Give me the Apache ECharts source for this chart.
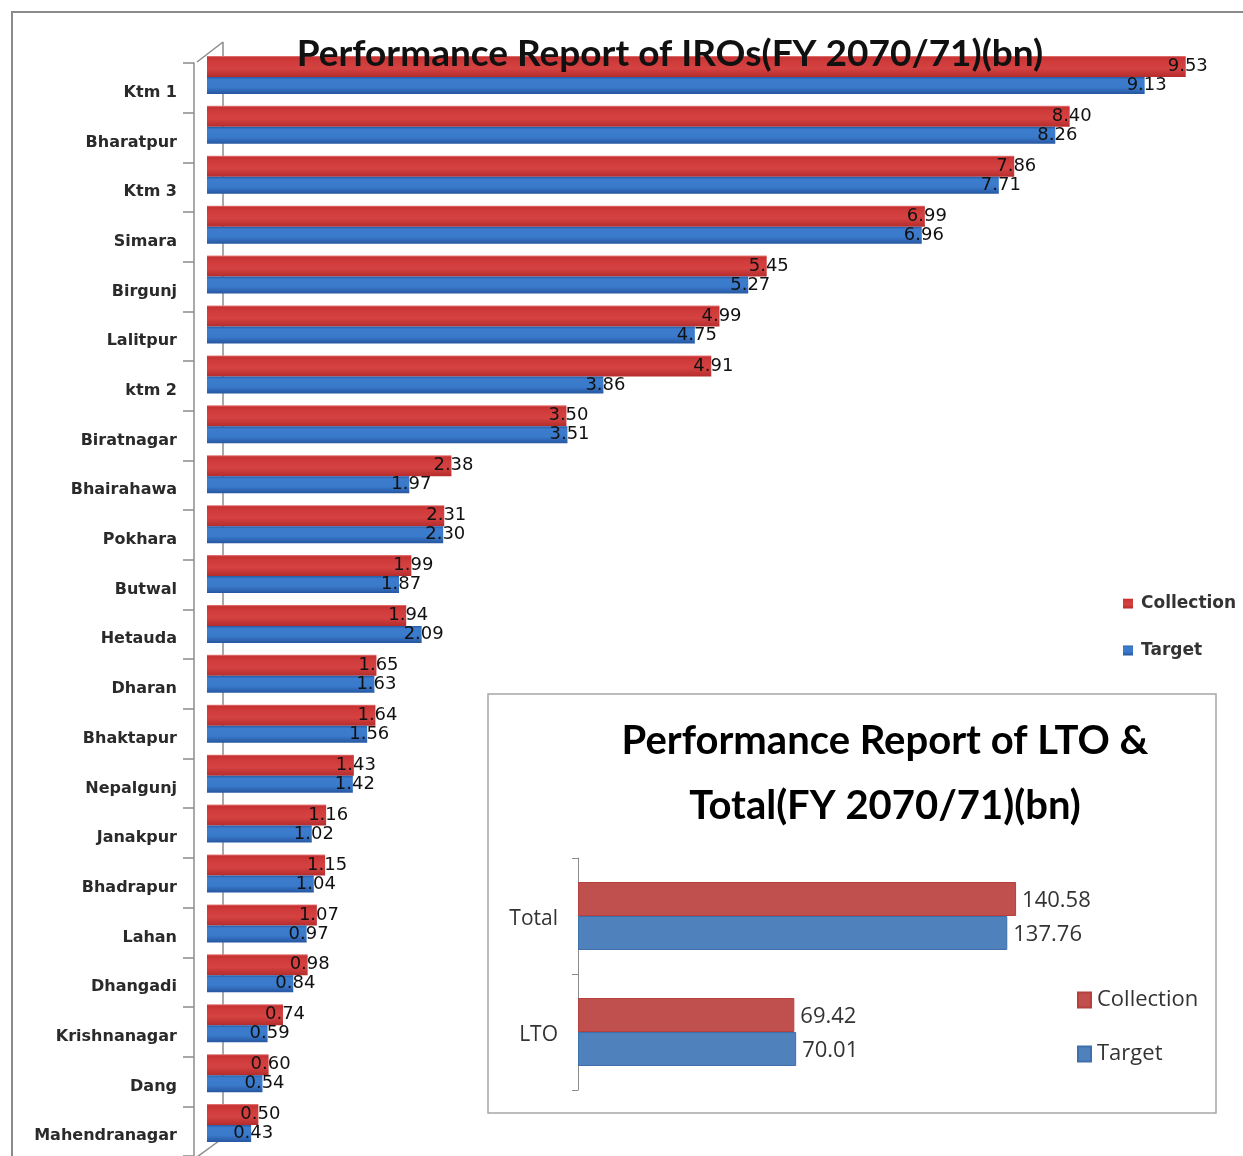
<!DOCTYPE html>
<html>
<head>
<meta charset="utf-8">
<script src="https://cdn.jsdelivr.net/npm/echarts@6/dist/echarts.min.js"></script>
<style>
html,body{margin:0;padding:0;background:#fff;}
#chart{width:1243px;height:1156px;}
</style>
</head>
<body>
<div id="chart"></div>
<script>
// ---- data ----
var categories = ['Ktm 1','Bharatpur','Ktm 3','Simara','Birgunj','Lalitpur','ktm 2','Biratnagar','Bhairahawa','Pokhara','Butwal','Hetauda','Dharan','Bhaktapur','Nepalgunj','Janakpur','Bhadrapur','Lahan','Dhangadi','Krishnanagar','Dang','Mahendranagar'];
var collection = [9.53,8.40,7.86,6.99,5.45,4.99,4.91,3.50,2.38,2.31,1.99,1.94,1.65,1.64,1.43,1.16,1.15,1.07,0.98,0.74,0.60,0.50];
var target = [9.13,8.26,7.71,6.96,5.27,4.75,3.86,3.51,1.97,2.30,1.87,2.09,1.63,1.56,1.42,1.02,1.04,0.97,0.84,0.59,0.54,0.43];

var ltoCategories = ['Total','LTO'];
var ltoCollection = [140.58,69.42];
var ltoTarget = [137.76,70.01];

var mainTitle = 'Performance Report of IROs(FY 2070/71)(bn)';
var insetTitle = 'Performance Report of LTO &\nTotal(FY 2070/71)(bn)';

// ---- styles ----
var redGrad = new echarts.graphic.LinearGradient(0,0,0,1,[
  {offset:0,color:'#e88080'},{offset:0.08,color:'#c63232'},{offset:0.25,color:'#cf3b3b'},{offset:0.6,color:'#d54242'},{offset:1,color:'#b52c2c'}]);
var blueGrad = new echarts.graphic.LinearGradient(0,0,0,1,[
  {offset:0,color:'#245aa3'},{offset:0.15,color:'#3d7ccc'},{offset:0.6,color:'#3a7acb'},{offset:1,color:'#2656a0'}]);

var chart = echarts.init(document.getElementById('chart'));
var lblFont = 'DejaVu Sans';

var option = {
  animation: false,
  backgroundColor: '#fff',
  title: [{
    text: mainTitle,
    left: 665, top: 31, textAlign: 'center',
    textStyle: {fontFamily: 'Lato', fontWeight: 'bold', fontSize: 37, color: '#111'}
  },{
    text: insetTitle,
    left: 880, top: 704, textAlign: 'center',
    textStyle: {fontFamily: 'Lato', fontWeight: 'bold', fontSize: 40, color: '#000', lineHeight: 65}
  }],
  legend: [{
    data: ['Collection','Target'],
    orient: 'vertical', left: 1118, top: 590,
    icon: 'rect', itemWidth: 10, itemHeight: 10, itemGap: 30,
    textStyle: {fontFamily: lblFont, fontWeight: 'bold', fontSize: 17, color: '#333', padding: [0,0,0,3]}
  },{
    data: ['LTO Collection','LTO Target'],
    orient: 'vertical', left: 1072, top: 984,
    icon: 'rect', itemWidth: 13, itemHeight: 15, itemGap: 32,
    formatter: function(n){ return n.replace('LTO ',''); },
    textStyle: {fontFamily: 'Open Sans', fontSize: 22, color: '#333', padding: [0,0,0,1]}
  }],
  grid: [
    {left: 207, top: 50, width: 1027, height: 1098},
    {left: 194, top: 63, width: 10, height: 1098},
    {left: 578, top: 858, width: 498.6, height: 232}
  ],
  xAxis: [
    {gridIndex: 0, type: 'value', min: 0, max: 10, show: false},
    {gridIndex: 1, type: 'value', show: false},
    {gridIndex: 2, type: 'value', min: 0, max: 160, show: false}
  ],
  yAxis: [
    {gridIndex: 0, type: 'category', data: categories, inverse: true,
     axisLine: {show: false}, axisTick: {show: false}, axisLabel: {show: false}},
    {gridIndex: 1, type: 'category', data: categories, inverse: true,
     axisLine: {show: true, lineStyle: {color: '#8c8c8c', width: 1.5}},
     axisTick: {show: true, length: 11, lineStyle: {color: '#8c8c8c', width: 1.5}},
     axisLabel: {margin: 17, verticalAlign: 'top', lineHeight: 10, fontFamily: lblFont, fontWeight: 'bold', fontSize: 16, color: '#2a2a2a'}},
    {gridIndex: 2, type: 'category', data: ltoCategories, inverse: true,
     axisLine: {show: true, lineStyle: {color: '#8c8c8c', width: 1}},
     axisTick: {show: true, length: 6, lineStyle: {color: '#8c8c8c'}},
     axisLabel: {margin: 20, verticalAlign: 'top', lineHeight: 6, fontFamily: 'Open Sans', fontSize: 21, color: '#333'}}
  ],
  graphic: {
    elements: [
      {type: 'rect', shape: {x: 12, y: 12, width: 1400, height: 1400}, style: {fill: 'none', stroke: '#8a8a8a', lineWidth: 2}, z: -5, silent: true},
      {type: 'line', shape: {x1: 223, y1: 42, x2: 223, y2: 1140}, style: {stroke: '#8c8c8c', lineWidth: 1.5}, z: -5},
      {type: 'line', shape: {x1: 197, y1: 62, x2: 223, y2: 42}, style: {stroke: '#8c8c8c', lineWidth: 1.5}, z: -5},
      {type: 'line', shape: {x1: 197, y1: 1157, x2: 223, y2: 1138}, style: {stroke: '#8c8c8c', lineWidth: 1.5}, z: -5},
      {type: 'rect', shape: {x: 488, y: 694, width: 728, height: 419}, style: {fill: '#fff', stroke: '#a6a6a6', lineWidth: 1.5}, z: -1}
    ]
  },
  series: [
    {name: 'Collection', type: 'bar', xAxisIndex: 0, yAxisIndex: 0, data: collection,
     barWidth: 21, barGap: '0%', itemStyle: {color: redGrad}, z: 3,
     label: {show: true, position: 'right', distance: -18, formatter: function(p){return p.value.toFixed(2);},
       fontFamily: lblFont, fontSize: 18, color: '#111'}},
    {name: 'Target', type: 'bar', xAxisIndex: 0, yAxisIndex: 0, data: target,
     barWidth: 17, barGap: '0%', itemStyle: {color: blueGrad}, z: 3,
     label: {show: true, position: 'right', distance: -18, formatter: function(p){return p.value.toFixed(2);},
       fontFamily: lblFont, fontSize: 18, color: '#111'}},
    {name: 'LTO Collection', type: 'bar', xAxisIndex: 2, yAxisIndex: 2, data: ltoCollection,
     barWidth: 34, barGap: '0%', z: 10, itemStyle: {color: '#C0504D', borderColor: '#b5403d', borderWidth: 1},
     label: {show: true, position: 'right', distance: 6, offset: [0,2], formatter: function(p){return p.value.toFixed(2);},
       fontFamily: 'Open Sans', fontSize: 22, color: '#333'}},
    {name: 'LTO Target', type: 'bar', xAxisIndex: 2, yAxisIndex: 2, data: ltoTarget,
     barWidth: 34, barGap: '0%', z: 10, itemStyle: {color: '#4F81BD', borderColor: '#3f70ab', borderWidth: 1},
     label: {show: true, position: 'right', distance: 6, offset: [0,2], formatter: function(p){return p.value.toFixed(2);},
       fontFamily: 'Open Sans', fontSize: 22, color: '#333'}}
  ]
};
chart.setOption(option);
</script>
</body>
</html>
